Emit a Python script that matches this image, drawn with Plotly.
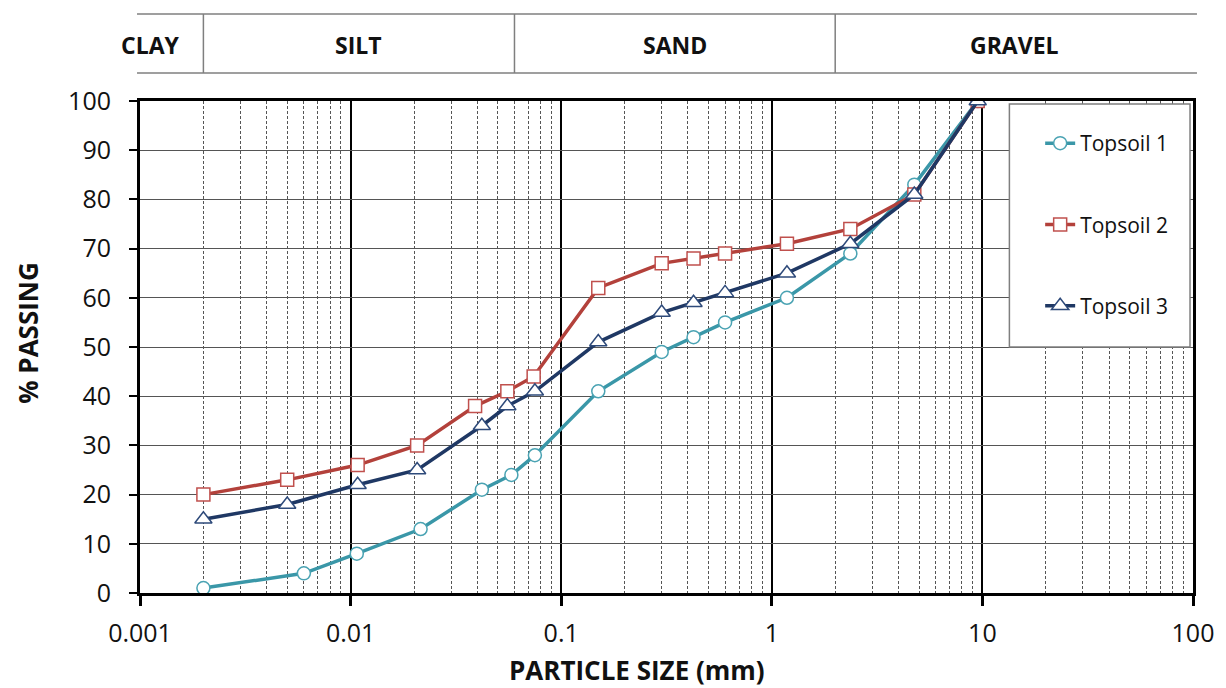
import math
import plotly.graph_objects as go

# ---- data ----
series_names = ["Topsoil 1", "Topsoil 2", "Topsoil 3"]
t1_size = [0.002, 0.006, 0.0107, 0.0215, 0.042, 0.058, 0.075, 0.15, 0.3, 0.425, 0.6, 1.18, 2.36, 4.75, 9.5]
t1_pass = [1, 4, 8, 13, 21, 24, 28, 41, 49, 52, 55, 60, 69, 83, 100]
t2_size = [0.002, 0.005, 0.0108, 0.0207, 0.039, 0.0555, 0.074, 0.15, 0.3, 0.425, 0.6, 1.18, 2.36, 4.75, 9.5]
t2_pass = [20, 23, 26, 30, 38, 41, 44, 62, 67, 68, 69, 71, 74, 81, 100]
t3_size = [0.002, 0.005, 0.0108, 0.0207, 0.042, 0.0555, 0.075, 0.15, 0.3, 0.425, 0.6, 1.18, 2.36, 4.75, 9.5]
t3_pass = [15, 18, 22, 25, 34, 38, 41, 51, 57, 59, 61, 65, 71, 81, 100]

x_ticks = [0.001, 0.01, 0.1, 1, 10, 100]
x_ticktext = ["0.001", "0.01", "0.1", "1", "10", "100"]
band_labels = ["CLAY", "SILT", "SAND", "GRAVEL"]
band_bounds = [0.001, 0.002, 0.06, 2, 100]

colors = ["#3A97A8", "#B3413B", "#1F3864"]
outline = ["#4AA3B3", "#C0504D", "#2E4A7A"]
symbols = ["circle", "square", "triangle-up"]
sizes = [13, 13, 15]

FONT = "Open Sans"

fig = go.Figure()
for i, (xs, ys) in enumerate([(t1_size, t1_pass), (t2_size, t2_pass), (t3_size, t3_pass)]):
    fig.add_trace(go.Scatter(
        x=xs, y=ys, mode="lines+markers", name=series_names[i],
        legendgroup=series_names[i],
        line=dict(color=colors[i], width=3.5),
        marker=dict(symbol=symbols[i], size=sizes[i], color="white",
                    line=dict(color=outline[i], width=1.5)),
    ))

minor_vals = []
for d in range(-3, 2):
    for k in range(2, 10):
        minor_vals.append(k * 10 ** d)

L, R, T, B = 140, 25, 101, 95
W, H = 1226, 688
pw, ph = W - L - R, H - T - B

def px_x(p):
    return (p - L) / pw

def px_y(p):
    return (H - B - p) / ph

def lx(v):
    return (math.log10(v) + 3) / 5

shapes = []
for yy in [14, 73]:
    shapes.append(dict(type="line", xref="paper", yref="paper",
                       x0=px_x(137), x1=px_x(1205), y0=px_y(yy), y1=px_y(yy),
                       line=dict(color="#7F7F7F", width=1.5)))
for b in band_bounds[1:-1]:
    shapes.append(dict(type="line", xref="paper", yref="paper",
                       x0=lx(b), x1=lx(b), y0=px_y(14), y1=px_y(73),
                       line=dict(color="#7F7F7F", width=1.5)))
shapes.append(dict(type="rect", xref="paper", yref="paper",
                   x0=px_x(1016), x1=px_x(1198), y0=px_y(347), y1=px_y(104),
                   fillcolor="white", line=dict(color="#7F7F7F", width=1.5),
                   layer="above"))

annotations = []
for i, lab in enumerate(band_labels):
    if i == 0:
        xc = px_x(151)
    else:
        xc = (lx(band_bounds[i]) + lx(band_bounds[i + 1])) / 2
    annotations.append(dict(text="<b>" + lab + "</b>", xref="paper", yref="paper",
                            x=xc, y=px_y(45), showarrow=False,
                            xanchor="center", yanchor="middle",
                            font=dict(family=FONT, size=23, color="#111")))

annotations.append(dict(text="<b>PARTICLE SIZE (mm)</b>", xref="paper", yref="paper",
                        x=px_x(641), y=px_y(670), showarrow=False,
                        xanchor="center", yanchor="middle",
                        font=dict(family=FONT, size=26, color="#111")))
annotations.append(dict(text="<b>% PASSING</b>", xref="paper", yref="paper",
                        x=px_x(27), y=px_y(333), showarrow=False, textangle=-90,
                        xanchor="center", yanchor="middle",
                        font=dict(family=FONT, size=26, color="#111")))

fig.update_layout(
    width=W, height=H,
    margin=dict(l=L, r=R, t=T, b=B),
    paper_bgcolor="white", plot_bgcolor="white",
    font=dict(family=FONT, color="#111"),
    shapes=shapes, annotations=annotations,
    showlegend=True,
    legend=dict(x=px_x(1047), y=px_y(123), xanchor="left", yanchor="top",
                bgcolor="rgba(0,0,0,0)", borderwidth=0,
                font=dict(family=FONT, size=21, color="#111"),
                tracegroupgap=51, traceorder="grouped"),
    xaxis=dict(type="log", range=[-3, 2], tickvals=x_ticks, ticktext=x_ticktext,
               showgrid=True, gridcolor="#000", gridwidth=1.5,
               minor=dict(tickvals=minor_vals, showgrid=True, gridcolor="#555",
                          griddash="3px,2px", gridwidth=1, ticklen=0),
               showline=True, linecolor="#000", linewidth=3, mirror=True,
               ticks="outside", ticklen=10, tickwidth=2.5, tickcolor="#000",
               tickfont=dict(family=FONT, size=25, color="#111"),
               ticklabelstandoff=6),
    yaxis=dict(range=[0, 100], dtick=10, tick0=0,
               showgrid=True, gridcolor="#555", gridwidth=1.2, zeroline=False,
               showline=True, linecolor="#000", linewidth=3, mirror=True,
               ticks="outside", ticklen=8, tickwidth=2, tickcolor="#000",
               tickfont=dict(family=FONT, size=25, color="#111"),
               ticklabelstandoff=13),
)

fig.write_html("out.html", config={"displayModeBar": False},
               post_script="document.body.style.margin='0';document.body.style.overflow='hidden';")
